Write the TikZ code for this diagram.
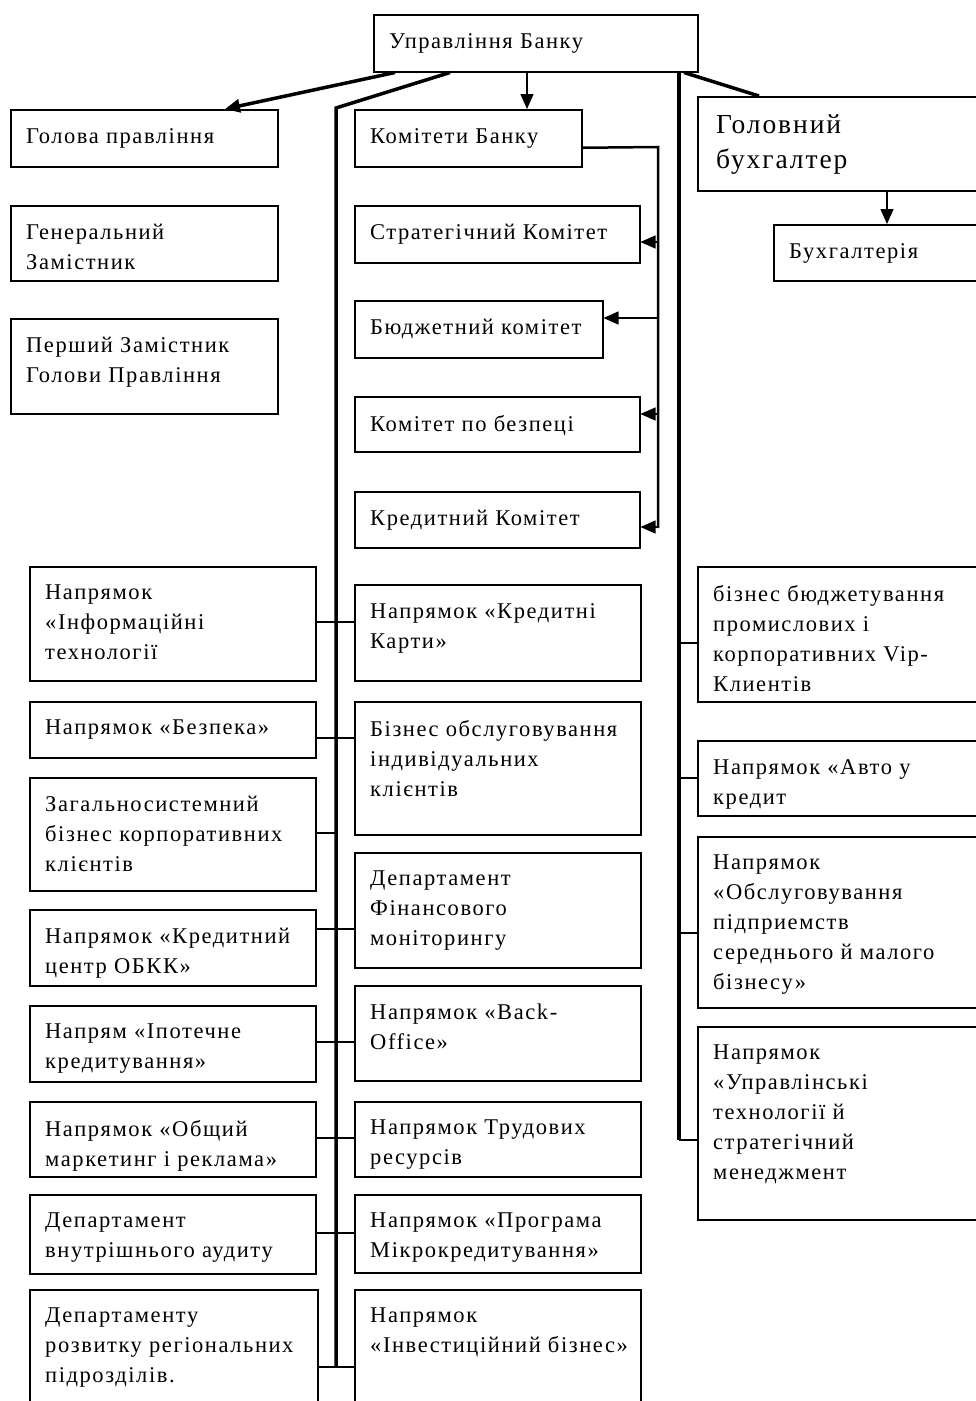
\documentclass[tikz,border=0pt]{standalone}
\usepackage{fontspec}
\setmainfont{Liberation Serif}[LetterSpace=7]
\usetikzlibrary{arrows.meta,calc,positioning}

\tikzset{
  unit/.style={draw, line width=1.5pt, anchor=north west, inner sep=0pt},
  txt/.style={anchor=north west, align=left, inner sep=0pt, xshift=16pt, yshift=-19pt, font=\fontsize{22.5}{30}\selectfont},
  bigtxt/.style={txt, xshift=3pt, yshift=1pt, font=\fontsize{27.5}{35}\selectfont},
  spine/.style={line width=3.5pt},
  link/.style={line width=1.3pt},
  tip/.style={-{Triangle[length=15pt,width=13pt]}}
}

\begin{document}
\begin{tikzpicture}[x=1pt,y=-1pt]
\useasboundingbox (0,0) rectangle (976,1401);

% top
\node[unit, minimum width=324pt, minimum height=57pt, label={[txt]north west:{Управління Банку}}] (bank) at (373,14) {};

\node[unit, minimum width=267pt, minimum height=57pt, label={[txt]north west:{Голова правління}}] (head) at (10,109) {};
\node[unit, minimum width=267pt, minimum height=75pt, label={[txt]north west:{Генеральний\\Замістник}}] (gen) at (10,205) {};
\node[unit, minimum width=267pt, minimum height=95pt, label={[txt]north west:{Перший Замістник\\Голови Правління}}] (first) at (10,318) {};

% committees
\node[unit, minimum width=227pt, minimum height=57pt, label={[txt]north west:{Комітети Банку}}] (comm) at (354,109) {};
\node[unit, minimum width=285pt, minimum height=57pt, label={[txt]north west:{Стратегічний Комітет}}] (strat) at (354,205) {};
\node[unit, minimum width=248pt, minimum height=57pt, label={[txt]north west:{Бюджетний комітет}}] (budget) at (354,300) {};
\node[unit, minimum width=285pt, minimum height=55pt, label={[txt]north west:{Комітет по безпеці}}] (secur) at (354,396) {};
\node[unit, minimum width=285pt, minimum height=56pt, label={[txt]north west:{Кредитний Комітет}}] (credit) at (354,491) {};

% accounting
\node[unit, minimum width=293pt, minimum height=94pt, label={[bigtxt]north west:{Головний\\бухгалтер}}] (chief) at (697,96) {};
\node[unit, minimum width=220pt, minimum height=56pt, label={[txt]north west:{Бухгалтерія}}] (acct) at (773,224) {};

% left column
\node[unit, minimum width=286pt, minimum height=114pt, label={[txt]north west:{Напрямок\\«Інформаційні\\технології}}] (info) at (29,566) {};
\node[unit, minimum width=286pt, minimum height=56pt, label={[txt]north west:{Напрямок «Безпека»}}] (guard) at (29,701) {};
\node[unit, minimum width=286pt, minimum height=113pt, label={[txt]north west:{Загальносистемний\\бізнес корпоративних\\клієнтів}}] (corp) at (29,777) {};
\node[unit, minimum width=286pt, minimum height=76pt, label={[txt]north west:{Напрямок «Кредитний\\центр ОБКК»}}] (okk) at (29,909) {};
\node[unit, minimum width=286pt, minimum height=76pt, label={[txt]north west:{Напрям «Іпотечне\\кредитування»}}] (mort) at (29,1005) {};
\node[unit, minimum width=286pt, minimum height=75pt, label={[txt]north west:{Напрямок «Общий\\маркетинг і реклама»}}] (mkt) at (29,1101) {};
\node[unit, minimum width=286pt, minimum height=79pt, label={[txt]north west:{Департамент\\внутрішнього аудиту}}] (audit) at (29,1194) {};
\node[unit, minimum width=288pt, minimum height=131pt, label={[txt]north west:{Департаменту\\розвитку регіональних\\підрозділів.}}] (region) at (29,1289) {};

% middle column
\node[unit, minimum width=286pt, minimum height=96pt, label={[txt]north west:{Напрямок «Кредитні\\Карти»}}] (cards) at (354,584) {};
\node[unit, minimum width=286pt, minimum height=133pt, label={[txt]north west:{Бізнес обслуговування\\індивідуальних\\клієнтів}}] (retail) at (354,701) {};
\node[unit, minimum width=286pt, minimum height=115pt, label={[txt]north west:{Департамент\\Фінансового\\моніторингу}}] (finmon) at (354,852) {};
\node[unit, minimum width=286pt, minimum height=95pt, label={[txt]north west:{Напрямок «Back-\\Office»}}] (back) at (354,985) {};
\node[unit, minimum width=286pt, minimum height=75pt, label={[txt]north west:{Напрямок Трудових\\ресурсів}}] (hr) at (354,1101) {};
\node[unit, minimum width=286pt, minimum height=78pt, label={[txt]north west:{Напрямок «Програма\\Мікрокредитування»}}] (micro) at (354,1194) {};
\node[unit, minimum width=286pt, minimum height=131pt, label={[txt]north west:{Напрямок\\«Інвестиційний бізнес»}}] (invest) at (354,1289) {};

% right column
\node[unit, minimum width=293pt, minimum height=135pt, label={[txt]north west:{бізнес бюджетування\\промислових і\\корпоративних Vip-\\Клиентів}}] (vip) at (697,566) {};
\node[unit, minimum width=293pt, minimum height=75pt, label={[txt]north west:{Напрямок «Авто у\\кредит}}] (auto) at (697,740) {};
\node[unit, minimum width=293pt, minimum height=171pt, label={[txt]north west:{Напрямок\\«Обслуговування\\підприемств\\середнього й малого\\бізнесу»}}] (sme) at (697,836) {};
\node[unit, minimum width=293pt, minimum height=193pt, label={[txt]north west:{Напрямок\\«Управлінські\\технології й\\стратегічний\\менеджмент}}] (tech) at (697,1026) {};

% links from the top
\coordinate (lbend) at (336,108);
\coordinate (lend) at (336,1367);
\coordinate (rend) at (679,1140);
\draw[spine, tip] ([xshift=22pt]bank.south west) -- ([xshift=215pt]head.north west);
\draw[spine] ([xshift=77pt]bank.south west) -- (lbend) -- (lend);
\draw[spine] ([xshift=306pt]bank.south west) -- (rend);
\draw[spine] ([xshift=311pt]bank.south west) -- ([xshift=62pt]chief.north west);
\draw[link, tip] ([xshift=154pt]bank.south west) -- ([xshift=173pt]comm.north west);
\draw[link, tip] ([xshift=190pt]chief.south west) -- ([xshift=114pt]acct.north west);

% committee rail
\coordinate (cs) at (658,147);
\coordinate (ce) at (658,528);
\draw[line width=2.5pt] ([yshift=-9.5pt]comm.east) -- (cs) -- (ce);
\coordinate (c1) at (658,242); \draw[link, tip] (c1) -- (c1 -| strat.east);
\coordinate (c2) at (658,318); \draw[link, tip] (c2) -- (c2 -| budget.east);
\coordinate (c3) at (658,414); \draw[link, tip] (c3) -- (c3 -| secur.east);
\coordinate (c4) at (658,527); \draw[link, tip] (c4) -- (c4 -| credit.east);

% left and middle branches
\coordinate (j1) at (336,622);  \draw[link] (j1 -| info.east) -- (j1 -| cards.west);
\coordinate (j2) at (336,738);  \draw[link] (j2 -| guard.east) -- (j2 -| retail.west);
\coordinate (j3) at (336,833);  \draw[link] (j3 -| corp.east) -- (j3);
\coordinate (j4) at (336,929);  \draw[link] (j4 -| okk.east) -- (j4 -| finmon.west);
\coordinate (j5) at (336,1042); \draw[link] (j5 -| mort.east) -- (j5 -| back.west);
\coordinate (j6) at (336,1138); \draw[link] (j6 -| mkt.east) -- (j6 -| hr.west);
\coordinate (j7) at (336,1233); \draw[link] (j7 -| audit.east) -- (j7 -| micro.west);
\draw[link] (lend -| region.east) -- (lend -| invest.west);

% right branches
\coordinate (r1) at (679,643);  \draw[link] (r1) -- (r1 -| vip.west);
\coordinate (r2) at (679,778);  \draw[link] (r2) -- (r2 -| auto.west);
\coordinate (r3) at (679,933);  \draw[link] (r3) -- (r3 -| sme.west);
\draw[link] (rend) -- (rend -| tech.west);

\end{tikzpicture}
\end{document}
